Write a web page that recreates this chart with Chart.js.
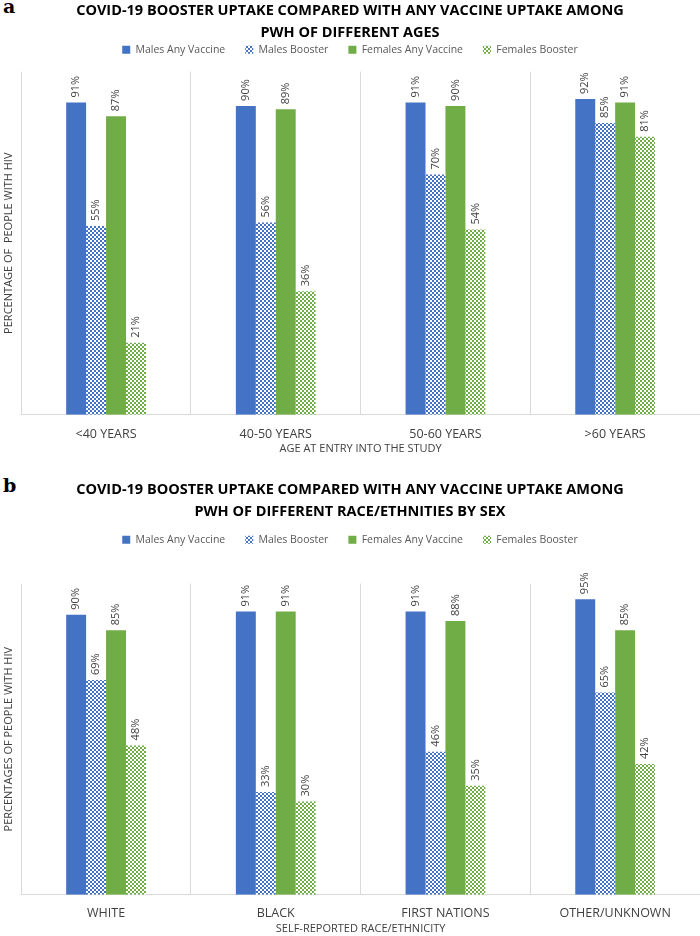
<!DOCTYPE html>
<html>
<head>
<meta charset="utf-8">
<script src="https://cdn.jsdelivr.net/npm/chart.js"></script>
<style>
  body { margin: 0; background: #fff; width: 700px; height: 936px; position: relative; overflow: hidden; }
  .panel { position: absolute; left: 0; width: 700px; }
  .tag { position: absolute; left: 3px; font: bold 19px "DejaVu Serif", "Liberation Serif", serif; color: #000; }
</style>
</head>
<body>
<div class="tag" style="top:-5px">a</div>
<div class="panel" style="top:0;height:455px"><canvas id="chartAge"></canvas></div>
<div class="tag" style="top:474px">b</div>
<div class="panel" style="top:479px;height:456px"><canvas id="chartRace"></canvas></div>
<script>
// shared series names
const seriesNames = ['Males Any Vaccine', 'Males Booster', 'Females Any Vaccine', 'Females Booster'];

// panel a - age groups
const ageGroups = ['<40 YEARS', '40-50 YEARS', '50-60 YEARS', '>60 YEARS'];
const ageMalesAny = [91, 90, 91, 92];
const ageMalesBooster = [55, 56, 70, 85];
const ageFemalesAny = [87, 89, 90, 91];
const ageFemalesBooster = [21, 36, 54, 81];

// panel b - race / ethnicity
const raceGroups = ['WHITE', 'BLACK', 'FIRST NATIONS', 'OTHER/UNKNOWN'];
const raceMalesAny = [90, 91, 91, 95];
const raceMalesBooster = [69, 33, 46, 65];
const raceFemalesAny = [85, 91, 88, 85];
const raceFemalesBooster = [48, 30, 35, 42];

const BLUE = '#4472c4';
const GREEN = '#70ad47';

function checker(color) {
    const c = document.createElement('canvas');
    c.width = 4; c.height = 4;
    const g = c.getContext('2d');
    g.fillStyle = '#ffffff';
    g.fillRect(0, 0, 4, 4);
    g.fillStyle = color;
    g.fillRect(0, 0, 2, 2);
    g.fillRect(2, 2, 2, 2);
    return g.createPattern(c, 'repeat');
}

// rotated percentage labels on top of each bar
const barLabels = {
    id: 'barLabels',
    afterDatasetsDraw(chart) {
        const ctx = chart.ctx;
        ctx.save();
        ctx.font = '11px "Open Sans", sans-serif';
        ctx.fillStyle = '#404040';
        ctx.textAlign = 'left';
        ctx.textBaseline = 'middle';
        chart.data.datasets.forEach((ds, i) => {
            chart.getDatasetMeta(i).data.forEach((bar, j) => {
                ctx.save();
                ctx.translate(bar.x, bar.y - 5);
                ctx.rotate(-Math.PI / 2);
                ctx.fillText(ds.data[j] + '%', 0, 0);
                ctx.restore();
            });
        });
        ctx.restore();
    }
};

// extra space under the legend, before the plot area
function legendGap(extra) {
    return {
        id: 'legendGap',
        beforeLayout(chart) {
            const lg = chart.legend;
            if (lg && !lg._gapPatched) {
                const fit = lg.fit;
                lg.fit = function () { fit.call(this); this.height += extra; };
                lg._gapPatched = true;
            }
        }
    };
}

function makeChart(id, groups, values, titleLines, xTitle, yTitle, lay) {
    const colors = [BLUE, checker(BLUE), GREEN, checker(GREEN)];
    return new Chart(document.getElementById(id), {
        type: 'bar',
        data: {
            labels: groups,
            datasets: seriesNames.map((name, i) => ({
                label: name,
                data: values[i],
                backgroundColor: colors[i],
                borderWidth: 0
            }))
        },
        options: {
            responsive: true,
            maintainAspectRatio: false,
            animation: false,
            datasets: { bar: { categoryPercentage: 0.47, barPercentage: 1 } },
            layout: { padding: 0 },
            plugins: {
                tooltip: { enabled: false },
                title: {
                    display: true,
                    text: titleLines,
                    color: '#000',
                    font: { family: '"Open Sans", sans-serif', size: 14.5, weight: 'bold', lineHeight: 1.52 },
                    padding: { top: 0, bottom: lay.titleBottom }
                },
                legend: {
                    position: 'top',
                    labels: {
                        boxWidth: 8,
                        boxHeight: 8,
                        padding: 20,
                        color: '#595959',
                        font: { family: '"Open Sans", sans-serif', size: 10.5 }
                    }
                }
            },
            scales: {
                x: {
                    grid: { display: true, offset: true, color: '#d9d9d9', drawTicks: false },
                    border: { display: true, color: '#d9d9d9' },
                    ticks: {
                        color: '#404040',
                        padding: lay.tickPad,
                        font: { family: '"Open Sans", sans-serif', size: 12.5 }
                    },
                    title: {
                        display: true,
                        text: xTitle,
                        color: '#404040',
                        padding: { top: lay.xTitleTop, bottom: 0 },
                        font: { family: '"Open Sans", sans-serif', size: 11 }
                    }
                },
                y: {
                    min: 0,
                    max: 100,
                    grid: { display: false },
                    border: { display: false },
                    ticks: { display: false },
                    title: {
                        display: true,
                        text: yTitle,
                        color: '#404040',
                        padding: { top: 2, bottom: -2 },
                        font: { family: '"Open Sans", sans-serif', size: 11 }
                    }
                }
            }
        },
        plugins: [barLabels, legendGap(lay.legendGap)]
    });
}

makeChart('chartAge', ageGroups,
    [ageMalesAny, ageMalesBooster, ageFemalesAny, ageFemalesBooster],
    ['COVID-19 BOOSTER UPTAKE COMPARED WITH ANY VACCINE UPTAKE AMONG', 'PWH OF DIFFERENT AGES'],
    'AGE AT ENTRY INTO THE STUDY', 'PERCENTAGE OF  PEOPLE WITH HIV',
    { titleBottom: -19.5, legendGap: 6.5, tickPad: 12, xTitleTop: -12 });

makeChart('chartRace', raceGroups,
    [raceMalesAny, raceMalesBooster, raceFemalesAny, raceFemalesBooster],
    ['COVID-19 BOOSTER UPTAKE COMPARED WITH ANY VACCINE UPTAKE AMONG', 'PWH OF DIFFERENT RACE/ETHNITIES BY SEX'],
    'SELF-REPORTED RACE/ETHNICITY', 'PERCENTAGES OF PEOPLE WITH HIV',
    { titleBottom: -8.5, legendGap: 28.5, tickPad: 11, xTitleTop: -10 });
</script>
</body>
</html>
